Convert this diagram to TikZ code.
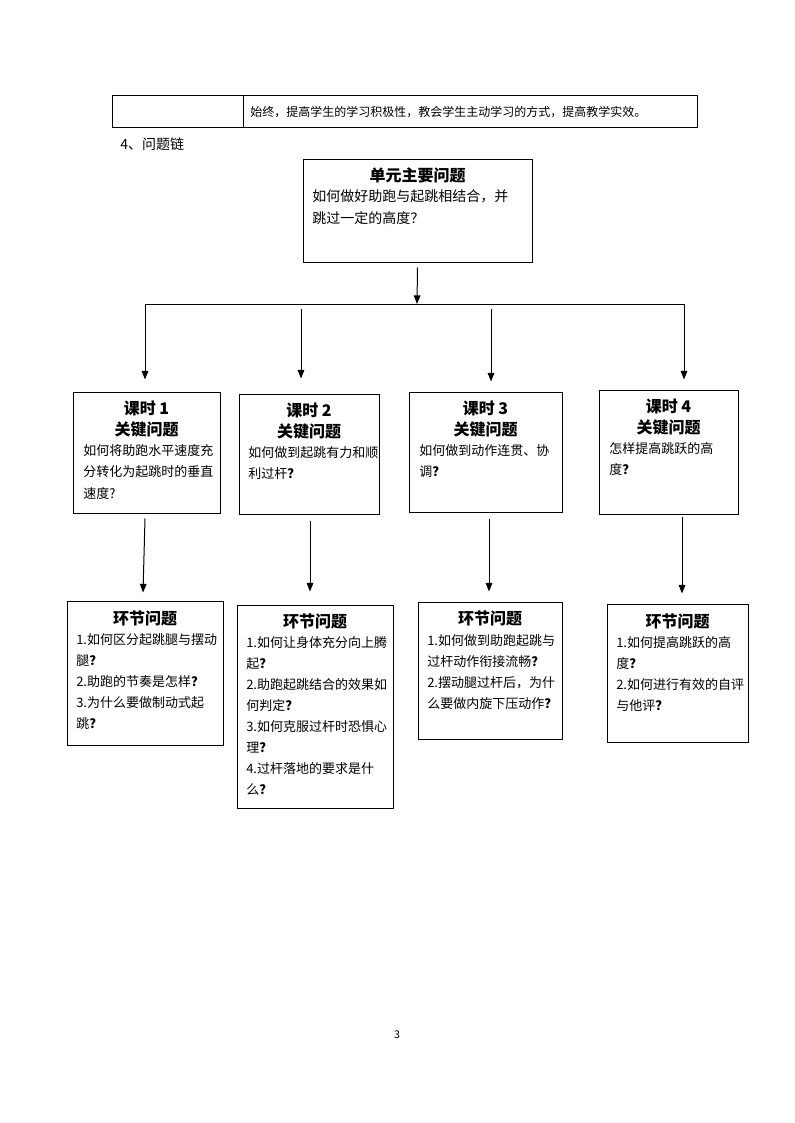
\documentclass[tikz,border=0pt]{standalone}
\usepackage{fontspec}
\setmainfont{Noto Sans CJK SC}
\usetikzlibrary{arrows.meta,calc,fit}
\newcommand{\qmk}{\textbf{？}}
\begin{document}
\begin{tikzpicture}[x=0.75pt,y=-0.75pt,
  box/.style={draw,line width=0.75pt,inner sep=0pt},
  line/.style={line width=0.75pt},
  arr/.style={line width=0.75pt,-{Triangle[length=6.5pt,width=5pt]}},
  body/.style={font=\fontsize{9.75}{15.8}\selectfont,align=left,inner sep=0pt,anchor=north west},
  ttl/.style={font=\fontsize{12}{15.5}\selectfont\bfseries,align=center,inner sep=0pt,anchor=north}]
\useasboundingbox (0,0) rectangle (794,1123);
% top table
\node[box,fit={(112,96) (243,128)}] (cellA) {};
\node[box,fit={(243,96) (697,128)}] (cellB) {};
\node[font=\fontsize{9}{11}\selectfont,inner sep=0pt,anchor=west] (cellBt) at (250,112) {始终，提高学生的学习积极性，教会学生主动学习的方式，提高教学实效。};
\node[font=\fontsize{10.5}{12}\selectfont,inner sep=0pt,anchor=west] (head) at (120,144) {4、问题链};
% main box
\node[box,fit={(303,160) (532,262)}] (main) {};
\node[ttl] (mainT) at (417.5,167) {单元主要问题};
\node[body,font=\fontsize{10.5}{16.5}\selectfont] (mainB) at (312,189) {如何做好助跑与起跳相结合，并\\跳过一定的高度？};
% level 2
\node[box,fit={(73,392) (220,513)}] (k1) {};
\node[box,fit={(239,394) (379,514)}] (k2) {};
\node[box,fit={(409,392) (562,512)}] (k3) {};
\node[box,fit={(599,390) (738,514)}] (k4) {};
\node[ttl] (k1T) at (146.5,401) {课时 1\\关键问题};
\node[ttl] (k2T) at (309,403) {课时 2\\关键问题};
\node[ttl] (k3T) at (485.5,401) {课时 3\\关键问题};
\node[ttl] (k4T) at (668.5,399) {课时 4\\关键问题};
\node[body,font=\fontsize{9.75}{16.3}\selectfont] (k1B) at (83,444) {如何将助跑水平速度充\\分转化为起跳时的垂直\\速度?};
\node[body] (k2B) at (248,446) {如何做到起跳有力和顺\\利过杆\qmk};
\node[body] (k3B) at (419,444) {如何做到动作连贯、协\\调\qmk};
\node[body] (k4B) at (609,442) {怎样提高跳跃的高\\度\qmk};
% level 3
\node[box,fit={(67,601) (223,745)}] (k5) {};
\node[box,fit={(237,605) (393,808)}] (k6) {};
\node[box,fit={(418,602) (562,739)}] (k7) {};
\node[box,fit={(607,604) (748,742)}] (k8) {};
\node[ttl] (k5T) at (145,611) {环节问题};
\node[ttl] (k6T) at (315,614) {环节问题};
\node[ttl] (k7T) at (490,611) {环节问题};
\node[ttl] (k8T) at (677.5,614) {环节问题};
\node[body] (k5B) at (76,633) {1.如何区分起跳腿与摆动\\腿\qmk\\2.助跑的节奏是怎样\qmk\\3.为什么要做制动式起\\跳\qmk};
\node[body] (k6B) at (246,636) {1.如何让身体充分向上腾\\起\qmk\\2.助跑起跳结合的效果如\\何判定\qmk\\3.如何克服过杆时恐惧心\\理\qmk\\4.过杆落地的要求是什\\么\qmk};
\node[body] (k7B) at (427,634) {1.如何做到助跑起跳与\\过杆动作衔接流畅\qmk\\2.摆动腿过杆后，为什\\么要做内旋下压动作\qmk};
\node[body] (k8B) at (616,636) {1.如何提高跳跃的高\\度\qmk\\2.如何进行有效的自评\\与他评\qmk};
% connectors
\coordinate (hL) at (145,304);
\coordinate (hM) at (417,304);
\coordinate (hR) at (684,304);
\coordinate (v2) at (301,309);
\coordinate (v3) at (491,309);
\draw[line] (hL) -- (hR);
\draw[arr] ($(main.south)+(0,5)$) -- (hM);
\draw[arr] (hL) -- ($(k1.north)+(-1.5,-12)$);
\draw[arr] (v2) -- ($(k2.north)+(-8,-15)$);
\draw[arr] (v3) -- ($(k3.north)+(5.5,-10)$);
\draw[arr] (hR) -- ($(k4.north)+(15.5,-10)$);
\draw[arr] ($(k1.south)+(-1.5,5)$) -- ($(k5.north)+(-2,-8)$);
\draw[arr] ($(k2.south)+(1,6)$) -- ($(k6.north)+(-5,-13)$);
\draw[arr] ($(k3.south)+(3.5,6)$) -- ($(k7.north)+(-1,-10)$);
\draw[arr] ($(k4.south)+(13.5,2)$) -- ($(k8.north)+(4.5,-10)$);
\node[font=\fontsize{8}{10}\selectfont,inner sep=0pt] (pg) at (397,1035) {3};
\end{tikzpicture}
\end{document}
